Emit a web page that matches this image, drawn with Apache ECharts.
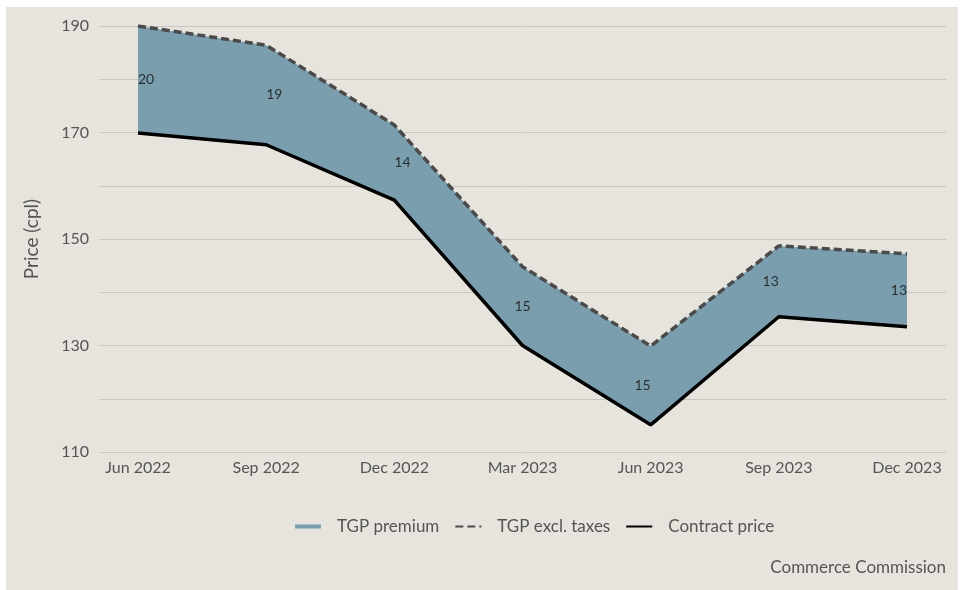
<!DOCTYPE html>
<html>
<head>
<meta charset="utf-8">
<script src="https://cdn.jsdelivr.net/npm/echarts@6/dist/echarts.min.js"></script>
<style>
html, body { margin: 0; background: #fff; }
#chart { position: absolute; left: 6px; top: 7px; width: 952px; height: 583px; }
</style>
</head>
<body>
<div id="chart"></div>
<script>
var categories = ["Jun 2022", "Sep 2022", "Dec 2022", "Mar 2023", "Jun 2023", "Sep 2023", "Dec 2023"];
var tgpExclTaxes = [190.0, 186.4, 171.4, 144.8, 129.9, 148.7, 147.2];
var contractPrice = [169.9, 167.7, 157.3, 130.0, 115.1, 135.4, 133.5];
var premiumLabels = [20, 19, 14, 15, 15, 13, 13];

var font = "Lato";
var textColor = "#555";

// band height between the two lines
var band = tgpExclTaxes.map(function (v, i) { return +(v - contractPrice[i]).toFixed(1); });

// premium labels sit in the middle of the band
var labelData = contractPrice.map(function (c, i) {
    return {
        value: [i, c + band[i] / 2],
        label: { align: i < 3 ? "left" : (i === 3 ? "center" : "right") }
    };
});

var chart = echarts.init(document.getElementById("chart"));
var option = {
    backgroundColor: "#E6E4DC",
    animation: false,
    grid: [
        { left: 132, right: 51, top: 19, bottom: 138 },
        { left: 93, right: 12, top: 19, bottom: 138 }
    ],
    xAxis: [{
        type: "category",
        gridIndex: 0,
        data: categories,
        boundaryGap: false,
        axisLine: { show: false },
        axisTick: { show: false },
        axisLabel: { color: textColor, fontFamily: font, fontSize: 16, margin: 8 }
    }, {
        type: "value",
        gridIndex: 1,
        min: 0,
        max: 1,
        show: false
    }],
    yAxis: [{
        type: "value",
        gridIndex: 0,
        min: 110,
        max: 190,
        interval: 10,
        show: false
    }, {
        type: "value",
        gridIndex: 1,
        min: 110,
        max: 190,
        interval: 10,
        name: "Price (cpl)",
        nameLocation: "middle",
        nameGap: 58,
        nameTextStyle: { color: textColor, fontFamily: font, fontSize: 19 },
        axisLine: { show: false },
        axisTick: { show: false },
        axisLabel: {
            color: textColor, fontFamily: font, fontSize: 16, margin: 10,
            formatter: function (v) { return (v - 110) % 20 === 0 ? v : ""; }
        },
        splitLine: { lineStyle: { color: "#C9C7C0", width: 1 } }
    }],
    legend: {
        left: 284,
        top: 506,
        itemWidth: 26,
        itemHeight: 4,
        itemGap: 15,
        textStyle: { color: textColor, fontFamily: font, fontSize: 17, padding: [0, 0, 0, 11] },
        data: [
            { name: "TGP premium", icon: "rect", itemStyle: { color: "#7B9EAE" } },
            { name: "TGP excl. taxes", itemStyle: { opacity: 0 } },
            { name: "Contract price", itemStyle: { opacity: 0 } }
        ]
    },
    graphic: [{
        type: "text",
        right: 12,
        top: 552,
        style: { text: "Commerce Commission", fill: textColor, font: "17px " + font }
    }],
    series: [{
        name: "base",
        type: "line",
        stack: "band",
        data: contractPrice,
        symbol: "none",
        lineStyle: { width: 0 },
        silent: true
    }, {
        name: "TGP premium",
        type: "line",
        stack: "band",
        data: band,
        symbol: "none",
        itemStyle: { color: "#7B9EAE" },
        lineStyle: { width: 0 },
        areaStyle: { color: "#7B9EAE", opacity: 1 }
    }, {
        name: "TGP excl. taxes",
        type: "line",
        data: tgpExclTaxes,
        symbol: "none",
        itemStyle: { color: "#4A4A4A" },
        lineStyle: { color: "#4A4A4A", width: 3.5, type: [8, 4] },
        z: 4
    }, {
        name: "Contract price",
        type: "line",
        data: contractPrice,
        symbol: "none",
        itemStyle: { color: "#000" },
        lineStyle: { color: "#000", width: 3.5 },
        z: 4
    }, {
        name: "labels",
        type: "scatter",
        data: labelData,
        symbolSize: 0,
        z: 5,
        label: {
            show: true,
            position: "inside",
            color: "#111",
            fontFamily: font,
            fontSize: 14,
            formatter: function (p) { return premiumLabels[p.dataIndex]; }
        }
    }]
};
chart.setOption(option);
</script>
</body>
</html>
